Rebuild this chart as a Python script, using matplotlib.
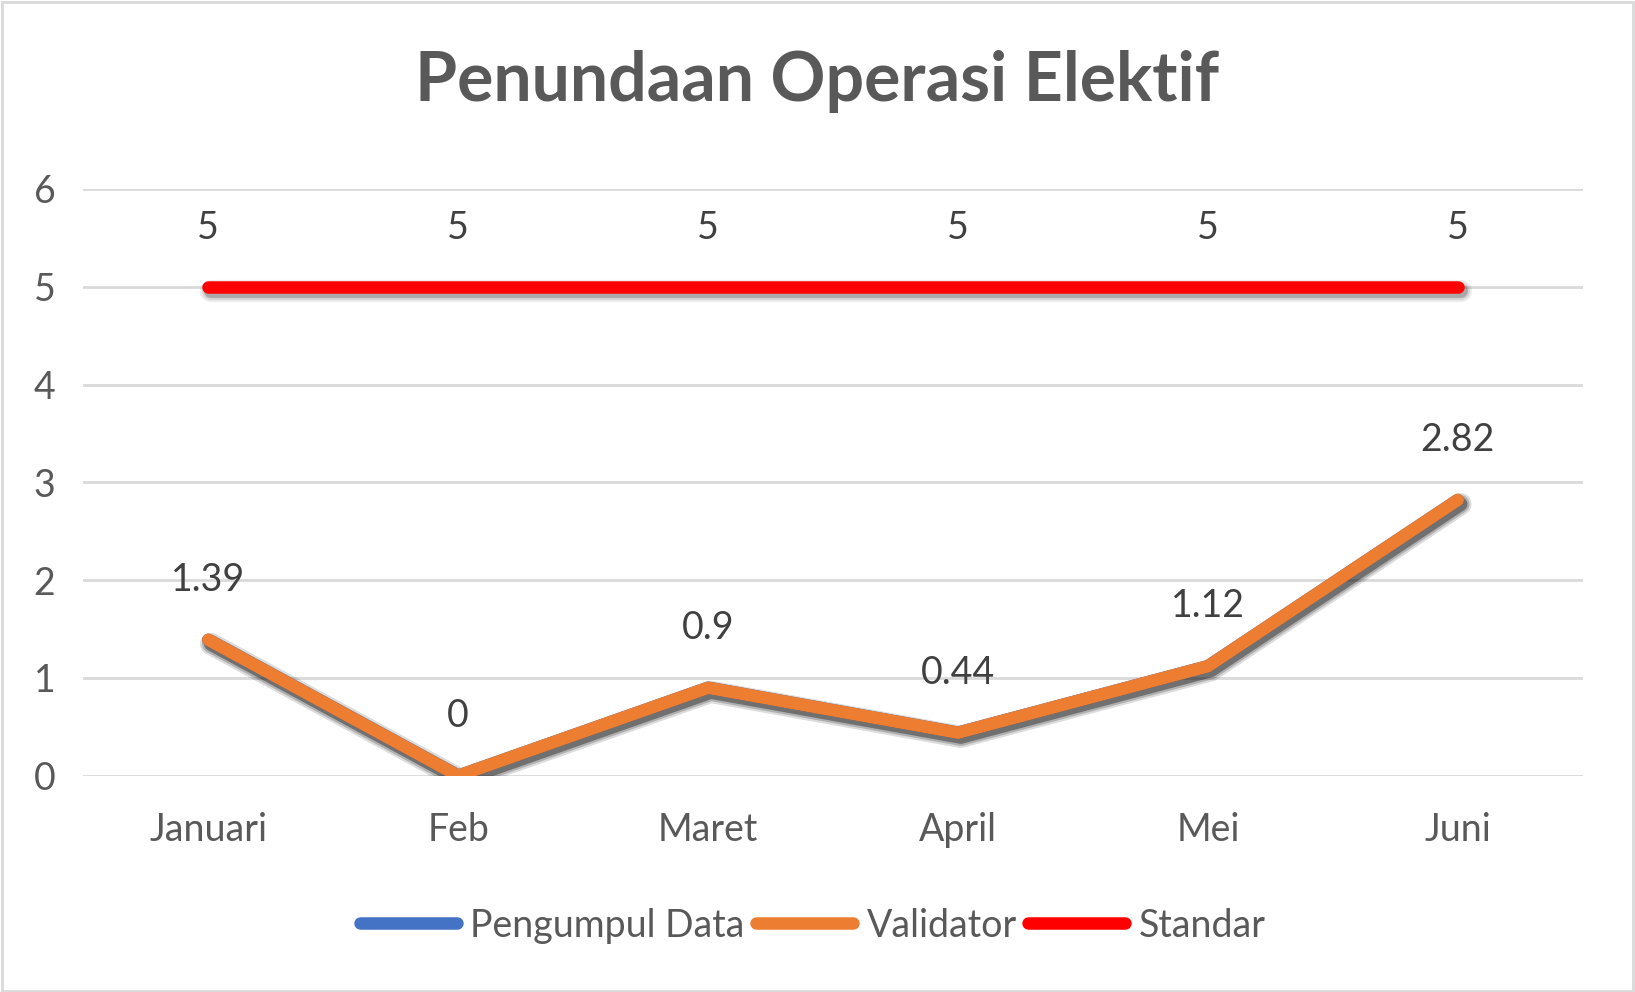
import matplotlib.pyplot as plt
import matplotlib.patheffects as pe
from matplotlib.lines import Line2D
from matplotlib.patches import Rectangle

months = ['Januari', 'Feb', 'Maret', 'April', 'Mei', 'Juni']
pengumpul = [1.39, 0, 0.9, 0.44, 1.12, 2.82]
validator = [1.39, 0, 0.9, 0.44, 1.12, 2.82]
standar = [5, 5, 5, 5, 5, 5]

plt.rcParams['font.family'] = ['Lato', 'DejaVu Sans']

fig = plt.figure(figsize=(16.35, 9.92), dpi=100)
ax = fig.add_axes([0.051, 0.218, 0.917, 0.5915])

# soft drop shadow: a few wide, faint copies under the line
shadow = [pe.SimpleLineShadow(offset=(2, -3), shadow_color='black', alpha=a, linewidth=w)
          for a, w in [(0.07, 16), (0.10, 13), (0.2, 10)]] + [pe.Normal()]

colors = {'Pengumpul Data': '#4472C4', 'Validator': '#ED7D31', 'Standar': '#FF0000'}
x = list(range(len(months)))
for name, vals, z in [('Pengumpul Data', pengumpul, 3), ('Validator', validator, 4),
                      ('Standar', standar, 5)]:
    ax.plot(x, vals, color=colors[name], lw=9, solid_capstyle='round',
            solid_joinstyle='round', path_effects=shadow, zorder=z)

for xi, v in zip(x, validator):
    ax.annotate(f'{v:g}', (xi, v), xytext=(0, 43), textcoords='offset points',
                ha='center', va='center', fontsize=27, color='#404040')
for xi, v in zip(x, standar):
    ax.annotate(f'{v:g}', (xi, v), xytext=(0, 42), textcoords='offset points',
                ha='center', va='center', fontsize=27, color='#404040')

ax.set_xlim(-0.5, 5.5)
ax.set_ylim(0, 6)
ax.set_yticks(range(7))
ax.set_xticks(x)
ax.set_xticklabels(months)
ax.tick_params(length=0, labelsize=27, labelcolor='#595959')
ax.tick_params(axis='x', pad=26)
ax.tick_params(axis='y', pad=28)
for lab in ax.get_yticklabels():
    lab.set_horizontalalignment('center')
ax.grid(axis='y', color='#d9d9d9', lw=2)
ax.set_axisbelow(True)
for s in ax.spines.values():
    s.set_visible(False)

fig.text(0.5, 0.918, 'Penundaan Operasi Elektif', ha='center', va='center',
         fontsize=49, fontweight='bold', color='#595959')

handles = [Line2D([], [], color=c, lw=9, solid_capstyle='round') for c in colors.values()]
fig.legend(handles, list(colors.keys()), loc='center', bbox_to_anchor=(0.497, 0.067),
           ncol=3, frameon=False, fontsize=27, labelcolor='#595959', handlelength=2.6,
           handletextpad=0.35, columnspacing=0.3)

fig.patches.append(Rectangle((0.001, 0.001), 0.998, 0.997, transform=fig.transFigure,
                             fill=False, edgecolor='#d9d9d9', lw=2))

fig.savefig('out.png', dpi=100)
